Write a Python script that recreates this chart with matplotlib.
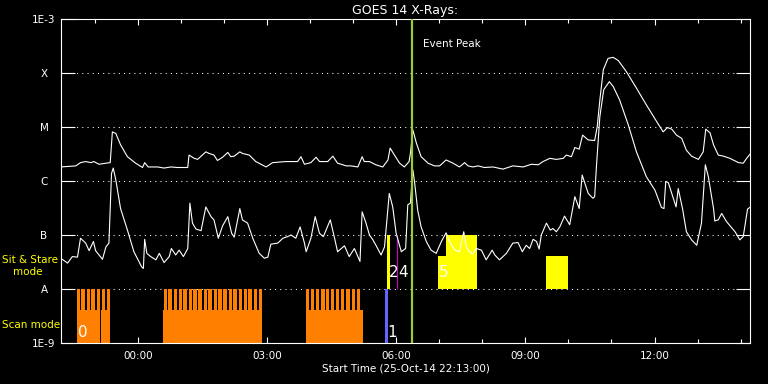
import matplotlib
matplotlib.use('Agg')
import matplotlib.pyplot as plt
import numpy as np
from matplotlib.ticker import FixedLocator, NullLocator

# time axis in hours from 00:00 UT on 26-Oct-2014
t_start = -1.783   # 25-Oct-14 22:13:00
t_end = 14.217

# GOES 14 long channel (1-8 A), log10 flux in W/m^2
long_hours = [-1.79, -1.44, -1.33, -1.21, -1.09, -1.02, -0.90, -0.74, -0.64, -0.59,
              -0.51, -0.40, -0.24, -0.05, 0.11, 0.16, 0.24, 0.46, 0.61, 0.77,
              0.92, 1.16, 1.19, 1.31, 1.39, 1.58, 1.66, 1.77, 1.85, 1.97,
              2.09, 2.16, 2.24, 2.37, 2.43, 2.59, 2.74, 2.98, 3.13, 3.44,
              3.71, 3.79, 3.87, 4.02, 4.14, 4.22, 4.41, 4.53, 4.64, 4.84,
              4.95, 5.11, 5.21, 5.26, 5.38, 5.53, 5.69, 5.81, 5.86, 5.96,
              6.08, 6.19, 6.30, 6.33, 6.39, 6.47, 6.58, 6.74, 6.89, 7.01,
              7.16, 7.32, 7.47, 7.59, 7.67, 7.78, 7.90, 8.05, 8.25, 8.48,
              8.71, 8.95, 9.14, 9.30, 9.41, 9.57, 9.72, 9.88, 9.95, 10.07,
              10.15, 10.25, 10.33, 10.46, 10.61, 10.67, 10.73, 10.81, 10.92, 11.04,
              11.16, 11.35, 11.58, 11.81, 12.05, 12.20, 12.30, 12.40, 12.51, 12.63,
              12.74, 12.86, 13.02, 13.13, 13.19, 13.29, 13.37, 13.48, 13.60, 13.75,
              13.95, 14.06, 14.14, 14.23]
long_logflux = [-5.74, -5.72, -5.66, -5.64, -5.66, -5.64, -5.69, -5.67, -5.66, -5.09,
                -5.12, -5.33, -5.55, -5.67, -5.75, -5.66, -5.74, -5.74, -5.76, -5.74,
                -5.75, -5.75, -5.52, -5.58, -5.60, -5.46, -5.49, -5.52, -5.62, -5.56,
                -5.47, -5.55, -5.54, -5.46, -5.49, -5.52, -5.64, -5.74, -5.66, -5.64,
                -5.64, -5.55, -5.69, -5.66, -5.56, -5.64, -5.64, -5.54, -5.67, -5.72,
                -5.72, -5.74, -5.55, -5.64, -5.64, -5.70, -5.74, -5.61, -5.39, -5.52,
                -5.67, -5.74, -5.64, -5.49, -5.06, -5.30, -5.55, -5.67, -5.72, -5.72,
                -5.61, -5.67, -5.74, -5.66, -5.72, -5.74, -5.72, -5.75, -5.74, -5.78,
                -5.72, -5.74, -5.69, -5.70, -5.64, -5.58, -5.60, -5.58, -5.52, -5.55,
                -5.38, -5.41, -5.15, -5.24, -5.25, -4.99, -4.50, -3.94, -3.73, -3.71,
                -3.77, -3.98, -4.28, -4.59, -4.90, -5.09, -5.01, -5.04, -5.15, -5.21,
                -5.43, -5.54, -5.60, -5.46, -5.04, -5.11, -5.33, -5.52, -5.54, -5.58,
                -5.66, -5.67, -5.58, -5.49]

# GOES 14 short channel (0.5-4 A)
short_hours = [-1.79, -1.63, -1.52, -1.40, -1.33, -1.21, -1.13, -1.03, -0.98, -0.82,
               -0.74, -0.67, -0.61, -0.57, -0.51, -0.40, -0.24, -0.09, 0.09, 0.13,
               0.16, 0.21, 0.30, 0.42, 0.50, 0.61, 0.73, 0.78, 0.88, 0.96,
               1.06, 1.16, 1.21, 1.27, 1.35, 1.47, 1.58, 1.70, 1.77, 1.87,
               1.97, 2.09, 2.18, 2.24, 2.37, 2.43, 2.55, 2.67, 2.82, 2.94,
               3.02, 3.09, 3.25, 3.37, 3.48, 3.56, 3.67, 3.77, 3.87, 3.91,
               4.02, 4.12, 4.22, 4.31, 4.47, 4.57, 4.64, 4.80, 4.91, 5.03,
               5.11, 5.16, 5.21, 5.30, 5.38, 5.46, 5.53, 5.65, 5.73, 5.84,
               5.92, 6.00, 6.12, 6.22, 6.27, 6.33, 6.37, 6.39, 6.43, 6.50,
               6.58, 6.70, 6.81, 6.93, 7.05, 7.16, 7.24, 7.36, 7.47, 7.57,
               7.63, 7.70, 7.78, 7.86, 7.98, 8.09, 8.23, 8.29, 8.40, 8.56,
               8.71, 8.83, 8.93, 9.02, 9.10, 9.18, 9.26, 9.32, 9.37, 9.49,
               9.58, 9.64, 9.72, 9.80, 9.91, 10.03, 10.15, 10.25, 10.32, 10.46,
               10.57, 10.61, 10.65, 10.73, 10.82, 10.95, 11.04, 11.19, 11.39, 11.58,
               11.81, 12.01, 12.16, 12.22, 12.26, 12.32, 12.50, 12.55, 12.65, 12.74,
               12.86, 12.98, 13.09, 13.18, 13.25, 13.37, 13.40, 13.48, 13.56, 13.67,
               13.87, 13.98, 14.06, 14.16, 14.23]
short_logflux = [-7.43, -7.52, -7.40, -7.41, -7.06, -7.15, -7.29, -7.12, -7.29, -7.45,
                 -7.22, -7.15, -5.86, -5.76, -5.98, -6.51, -6.91, -7.31, -7.59, -7.62,
                 -7.08, -7.34, -7.40, -7.46, -7.34, -7.51, -7.40, -7.25, -7.37, -7.28,
                 -7.40, -7.25, -6.41, -6.78, -6.89, -6.92, -6.48, -6.66, -6.72, -7.06,
                 -6.83, -6.66, -6.97, -7.04, -6.51, -6.72, -6.78, -7.06, -7.34, -7.43,
                 -7.41, -7.17, -7.15, -7.06, -7.03, -7.00, -7.06, -6.85, -7.15, -7.31,
                 -7.06, -6.66, -6.97, -7.03, -6.72, -7.06, -7.31, -7.20, -7.40, -7.25,
                 -7.40, -7.49, -6.57, -6.78, -7.00, -7.09, -7.19, -7.37, -7.22, -6.23,
                 -6.48, -6.97, -7.31, -7.25, -6.44, -6.41, -5.98, -5.80, -6.04, -6.54,
                 -6.85, -7.12, -7.28, -7.34, -7.12, -6.96, -7.12, -7.28, -7.31, -6.94,
                 -7.22, -7.31, -7.35, -7.25, -7.28, -7.46, -7.28, -7.37, -7.46, -7.34,
                 -7.15, -7.14, -7.31, -7.19, -7.25, -7.08, -7.12, -7.26, -7.00, -6.78,
                 -6.91, -6.88, -6.94, -6.85, -6.65, -6.81, -6.29, -6.51, -5.89, -6.23,
                 -6.32, -6.29, -5.74, -4.81, -4.31, -4.16, -4.25, -4.50, -4.96, -5.46,
                 -5.92, -6.17, -6.49, -6.51, -6.01, -6.03, -6.48, -6.14, -6.51, -6.94,
                 -7.09, -7.19, -6.78, -5.70, -5.92, -6.51, -6.74, -6.72, -6.60, -6.75,
                 -6.94, -7.09, -7.03, -6.52, -6.48]

decade_values = [1e-9, 1e-8, 1e-7, 1e-6, 1e-5, 1e-4, 1e-3]
decade_labels = ['1E-9', 'A', 'B', 'C', 'M', 'X', '1E-3']
time_ticks = [0, 3, 6, 9, 12]
time_labels = ['00:00', '03:00', '06:00', '09:00', '12:00']

# IRIS scan mode: block start/end and raster start times (hours)
scan_block_start = [-1.419, -0.860, 0.581, 3.907]
scan_block_end = [-0.884, -0.658, 2.884, 5.226]
scan_rasters = [-1.42, -1.31, -1.19, -1.08, -0.95, -0.84, -0.72,
                0.60, 0.71, 0.83, 0.95, 1.06, 1.18, 1.29, 1.41, 1.53, 1.64,
                1.76, 1.87, 1.99, 2.11, 2.22, 2.34, 2.46, 2.57, 2.69, 2.81,
                3.91, 4.02, 4.14, 4.26, 4.37, 4.49, 4.60, 4.72, 4.84, 4.97, 5.09]
raster_len = 0.077
scan1_start, scan1_end = 5.744, 5.814

# sit & stare observations
sit_start = [5.79, 6.977, 7.163, 9.488]
sit_end = [5.85, 7.884, 7.884, 10.0]
sit_full = [True, False, True, False]
sit4_time = 6.02

obs_labels = ['0', '1', '2', '4', '5']
obs_label_time = [-1.39, 5.79, 5.82, 6.05, 7.00]
obs_label_mode = ['scan', 'scan', 'sit', 'sit', 'sit']

event_peak = 6.37

ORANGE = '#ff8000'
YELLOW = '#ffff00'

plt.rcParams['font.family'] = 'DejaVu Sans'
plt.rcParams['font.size'] = 7.5

fig = plt.figure(figsize=(7.68, 3.84), dpi=100, facecolor='black')
ax = fig.add_axes([61/768, 41/384, 689/768, 324/384], facecolor='black')
ax.set_yscale('log')
ax.set_xlim(t_start, t_end)
ax.set_ylim(1e-9, 1e-3)

# dotted grid at flare class levels
for v in decade_values[1:-1]:
    ax.axhline(v, color='white', lw=0.75, ls=(0, (1, 4)), zorder=1)

short_level = 10 ** 0.61  # partial bar height (factor above band bottom)

# scan mode bars (band 1E-9 .. A)
ax.bar(scan_block_start, [1e-9 * short_level - 1e-9] * len(scan_block_start),
       width=np.array(scan_block_end) - np.array(scan_block_start),
       bottom=1e-9, align='edge', color=ORANGE, lw=0, zorder=2)
ax.bar(scan_rasters, [1e-8 - 1e-9] * len(scan_rasters), width=raster_len,
       bottom=1e-9, align='edge', color=ORANGE, lw=0, zorder=2)
ax.bar([scan1_start], [1e-8 - 1e-9], width=scan1_end - scan1_start,
       bottom=1e-9, align='edge', color='#6464ff', lw=0, zorder=2)

# sit & stare bars (band A .. B)
for s, e, full in zip(sit_start, sit_end, sit_full):
    top = 1e-7 if full else 1e-8 * short_level
    ax.bar([s], [top - 1e-8], width=e - s, bottom=1e-8, align='edge',
           color=YELLOW, lw=0, zorder=2)
ax.vlines(sit4_time, 1e-8, 1e-7, color='#c800c8', lw=0.8, zorder=2)

# light curves
ax.plot(long_hours, 10 ** np.array(long_logflux), color='white', lw=0.8, zorder=3)
ax.plot(short_hours, 10 ** np.array(short_logflux), color='white', lw=0.8, zorder=3)

# event peak
ax.axvline(event_peak, color='#9acd32', lw=1.6, zorder=4)
ax.text(event_peak + 0.25, 0.9145, 'Event Peak', color='white', va='baseline',
        transform=ax.get_xaxis_transform())

for lab, t, mode in zip(obs_labels, obs_label_time, obs_label_mode):
    y = 10 ** -8.81 if mode == 'scan' else 10 ** -7.69
    ax.text(t, y, lab, color='white', fontsize=11, ha='left', va='center', zorder=5)

# axes styling
for sp in ax.spines.values():
    sp.set_color('white')
    sp.set_linewidth(0.8)
ax.yaxis.set_major_locator(FixedLocator(decade_values))
ax.yaxis.set_minor_locator(NullLocator())
ax.set_yticklabels(decade_labels)
ax.set_xticks(time_ticks)
ax.set_xticklabels(time_labels)
ax.xaxis.set_minor_locator(FixedLocator(np.arange(-1, 15)))
ax.tick_params(which='both', direction='in', top=True, right=True, colors='white', width=0.8)
ax.tick_params(axis='y', length=10, pad=12.2)
ax.tick_params(axis='x', which='major', length=4.5, pad=6)
ax.tick_params(axis='x', which='minor', length=3)
for lab in ax.get_yticklabels():
    lab.set_horizontalalignment('center')

ax.set_title('GOES 14 X-Rays:', color='white', fontsize=9, pad=3.6)
ax.set_xlabel('Start Time (25-Oct-14 22:13:00)', color='white', labelpad=1.5)

# band labels on the left
fig.text(1.7/768, 1 - 263/384, 'Sit & Stare', color=YELLOW, va='baseline')
fig.text(12.7/768, 1 - 275/384, 'mode', color=YELLOW, va='baseline')
fig.text(1.7/768, 1 - 328/384, 'Scan mode', color=YELLOW, va='baseline')

fig.savefig('out.png', dpi=100, facecolor='black')
